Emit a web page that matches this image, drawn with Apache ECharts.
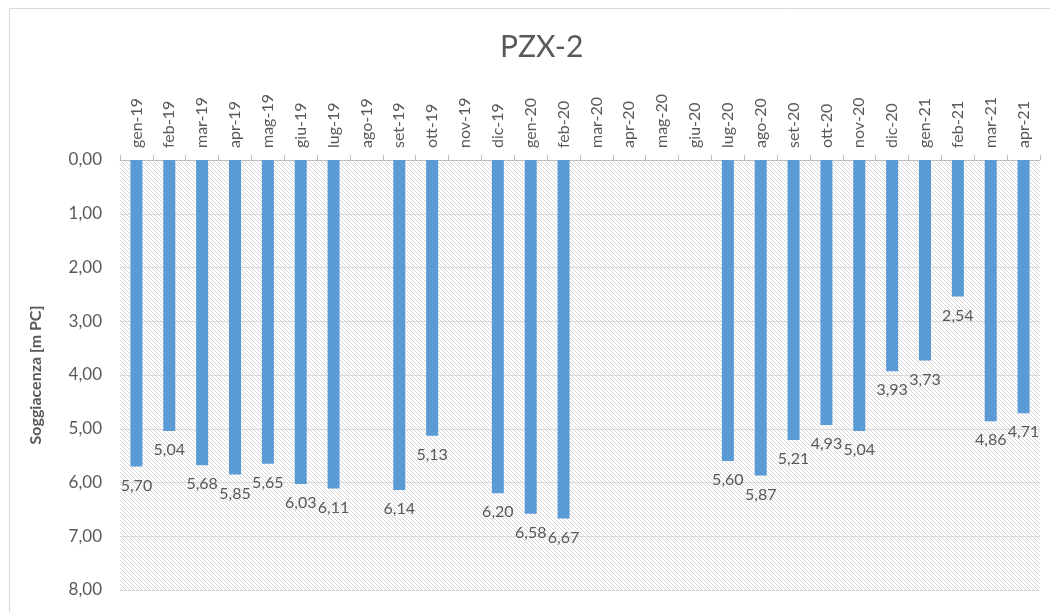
<!DOCTYPE html>
<html>
<head>
<meta charset="utf-8">
<script src="https://cdn.jsdelivr.net/npm/echarts@6/dist/echarts.min.js"></script>
<style>
html,body{margin:0;padding:0;background:#fff;}
#chart{width:1050px;height:612px;}
</style>
</head>
<body>
<div id="chart"></div>
<script>
// mesi (asse X in alto)
var mesi = ['gen-19','feb-19','mar-19','apr-19','mag-19','giu-19','lug-19','ago-19','set-19','ott-19','nov-19','dic-19',
	'gen-20','feb-20','mar-20','apr-20','mag-20','giu-20','lug-20','ago-20','set-20','ott-20','nov-20','dic-20',
	'gen-21','feb-21','mar-21','apr-21'];
// soggiacenza in m da piano campagna (null = nessuna misura)
var soggiacenza = [5.70,5.04,5.68,5.85,5.65,6.03,6.11,null,6.14,5.13,null,6.20,
	6.58,6.67,null,null,null,null,5.60,5.87,5.21,4.93,5.04,3.93,
	3.73,2.54,4.86,4.71];
// tacche asse Y
var tickMin = 0, tickMax = 8, tickStep = 1;

function virgola(v){
	return Number(v).toFixed(2).replace('.', ',');
}

// tratteggio diagonale per lo sfondo dell'area del grafico
function hatch(){
	var s = 4;
	var c = document.createElement('canvas');
	c.width = s; c.height = s;
	var ctx = c.getContext('2d');
	ctx.fillStyle = '#ffffff';
	ctx.fillRect(0, 0, s, s);
	ctx.strokeStyle = '#d6d6d6';
	ctx.lineWidth = 1;
	for (var k = -1; k <= 1; k++) {
		ctx.beginPath();
		ctx.moveTo(k * s, 0);
		ctx.lineTo(k * s + s, s);
		ctx.stroke();
	}
	return c;
}

var myChart = echarts.init(document.getElementById('chart'));
var option = {
	backgroundColor: '#ffffff',
	textStyle: {fontFamily: 'Lato, "Open Sans", sans-serif'},
	graphic: [{
		type: 'rect',
		shape: {x: 9.5, y: 8.5, width: 1100, height: 700},
		style: {fill: 'none', stroke: '#d9d9d9', lineWidth: 1},
		silent: true,
		z: -10
	}],
	title: {
		text: 'PZX-2',
		left: 495,
		top: 27,
		textStyle: {fontSize: 30, fontWeight: 'normal', color: '#595959', fontFamily: 'Lato, sans-serif'}
	},
	grid: {
		left: 120,
		right: 10,
		top: 160,
		bottom: 22,
		show: true,
		borderWidth: 0,
		backgroundColor: {image: hatch(), repeat: 'repeat'}
	},
	xAxis: {
		type: 'category',
		position: 'top',
		data: mesi,
		axisLine: {lineStyle: {color: '#bfbfbf'}},
		axisTick: {show: true, length: 5, lineStyle: {color: '#bfbfbf'}},
		axisLabel: {interval: 0, rotate: 90, color: '#595959', fontSize: 16, margin: 12}
	},
	yAxis: {
		type: 'value',
		inverse: true,
		min: tickMin,
		max: tickMax,
		interval: tickStep,
		name: 'Soggiacenza [m PC]',
		nameLocation: 'middle',
		nameGap: 76,
		nameTextStyle: {fontSize: 16, fontWeight: 'bold', color: '#595959'},
		axisLine: {show: false},
		axisTick: {show: false},
		axisLabel: {formatter: virgola, color: '#595959', fontSize: 17, margin: 18},
		splitLine: {lineStyle: {color: '#d9d9d9'}}
	},
	series: [{
		type: 'bar',
		data: soggiacenza,
		barWidth: 12,
		itemStyle: {color: '#5b9bd5'},
		label: {
			show: true,
			position: 'bottom',
			distance: 11,
			color: '#595959',
			fontSize: 16,
			formatter: function(p){ return virgola(p.value); }
		}
	}]
};
myChart.setOption(option);
</script>
</body>
</html>
